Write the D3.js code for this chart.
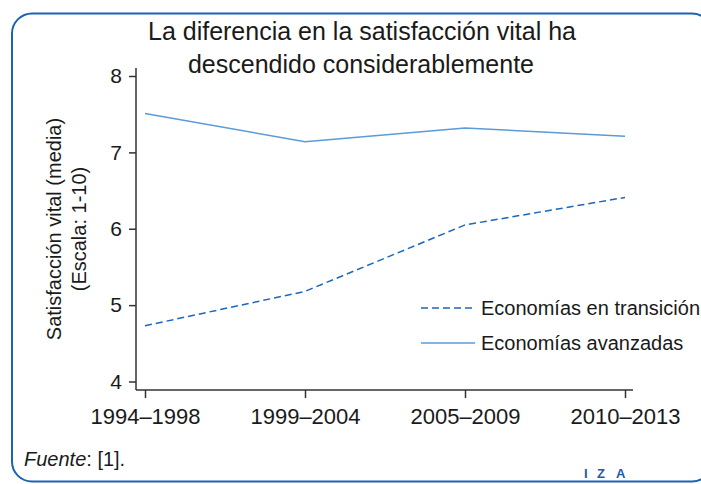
<!DOCTYPE html>
<html>
<head>
<meta charset="utf-8">
<script src="https://cdn.jsdelivr.net/npm/d3@7"></script>
<style>
  body { margin: 0; background: #fff; }
  svg { display: block; font-family: "Liberation Sans", Arial, sans-serif; }
</style>
</head>
<body>
<div id="wrapper"></div>
<script>
const periods = ["1994–1998", "1999–2004", "2005–2009", "2010–2013"];
const transitionValues = [4.73, 5.18, 6.05, 6.41];
const advancedValues = [7.51, 7.14, 7.32, 7.21];
const yTicks = [4, 5, 6, 7, 8];
const seriesNames = ["Economías en transición", "Economías avanzadas"];

const drawChart = () => {
  const dimensions = { width: 701, height: 484 };

  const wrapper = d3
    .select("#wrapper")
    .append("svg")
    .attr("width", dimensions.width)
    .attr("height", dimensions.height);

  // frame
  wrapper
    .append("rect")
    .attr("x", 12)
    .attr("y", 13.5)
    .attr("width", 700)
    .attr("height", 468)
    .attr("rx", 20)
    .attr("fill", "none")
    .attr("stroke", "#1c63b1")
    .attr("stroke-width", 2);

  // title
  const title = wrapper
    .append("text")
    .attr("text-anchor", "middle")
    .attr("fill", "#1a1a1a")
    .style("font-size", "25px");
  title.append("tspan").attr("x", 362).attr("y", 40).text("La diferencia en la satisfacción vital ha");
  title.append("tspan").attr("x", 361).attr("y", 73).text("descendido considerablemente");

  const xScale = d3.scalePoint().domain(periods).range([145, 625]);
  const yScale = d3.scaleLinear().domain([4, 8]).range([381.5, 76]);

  const axisColor = "#333";

  // axis lines
  wrapper
    .append("line")
    .attr("x1", 136).attr("x2", 136)
    .attr("y1", 68).attr("y2", 390)
    .attr("stroke", axisColor)
    .attr("stroke-width", 1.5);
  wrapper
    .append("line")
    .attr("x1", 136).attr("x2", 633)
    .attr("y1", 390).attr("y2", 390)
    .attr("stroke", axisColor)
    .attr("stroke-width", 1.5);

  const yAxis = wrapper
    .append("g")
    .attr("transform", "translate(136,0)")
    .call(d3.axisLeft(yScale).tickValues(yTicks).tickSize(7).tickPadding(7).tickFormat(d3.format("d")));
  yAxis.select(".domain").remove();
  yAxis.selectAll("line").attr("stroke", axisColor).attr("stroke-width", 1.5);
  yAxis.selectAll("text").attr("fill", "#1a1a1a").style("font-size", "21px").style("font-family", "inherit");

  const xAxis = wrapper
    .append("g")
    .attr("transform", "translate(0,390)")
    .call(d3.axisBottom(xScale).tickSize(8).tickPadding(10));
  xAxis.select(".domain").remove();
  xAxis.selectAll("line").attr("stroke", axisColor).attr("stroke-width", 1.5);
  xAxis.selectAll("text").attr("fill", "#1a1a1a").style("font-size", "22px").style("font-family", "inherit");

  // y label
  const yLabel = wrapper
    .append("text")
    .attr("transform", "translate(0,229) rotate(-90)")
    .attr("text-anchor", "middle")
    .attr("fill", "#1a1a1a")
    .style("font-size", "20px");
  yLabel.append("tspan").attr("x", 0).attr("y", 61).text("Satisfacción vital (media)");
  yLabel.append("tspan").attr("x", 0).attr("y", 86).text("(Escala: 1-10)");

  const line = d3
    .line()
    .x((d, i) => xScale(periods[i]))
    .y((d) => yScale(d));

  wrapper
    .append("path")
    .datum(advancedValues)
    .attr("d", line)
    .attr("fill", "none")
    .attr("stroke", "#5a9bd8")
    .attr("stroke-width", 1.5);

  wrapper
    .append("path")
    .datum(transitionValues)
    .attr("d", line)
    .attr("fill", "none")
    .attr("stroke", "#1e66ba")
    .attr("stroke-width", 1.5)
    .attr("stroke-dasharray", "7,4");

  // legend
  const legend = wrapper.append("g");
  const legendItems = [
    { name: seriesNames[0], color: "#1e66ba", dash: "7,4", y: 308 },
    { name: seriesNames[1], color: "#5a9bd8", dash: null, y: 343 },
  ];
  legendItems.forEach((item) => {
    legend
      .append("line")
      .attr("x1", 421).attr("x2", 475)
      .attr("y1", item.y).attr("y2", item.y)
      .attr("stroke", item.color)
      .attr("stroke-width", 1.5)
      .attr("stroke-dasharray", item.dash);
    legend
      .append("text")
      .attr("x", 481)
      .attr("y", item.y + 7)
      .attr("fill", "#1a1a1a")
      .style("font-size", "20px")
      .text(item.name);
  });

  // source
  const source = wrapper
    .append("text")
    .attr("x", 24)
    .attr("y", 466)
    .attr("fill", "#1a1a1a")
    .style("font-size", "20px");
  source.append("tspan").style("font-style", "italic").text("Fuente");
  source.append("tspan").text(": [1].");

  const logo = wrapper
    .append("text")
    .attr("y", 478)
    .attr("fill", "#1f5aa6")
    .style("font-size", "13px")
    .style("font-weight", "bold");
  logo.append("tspan").attr("x", 584).text("I");
  logo.append("tspan").attr("x", 597).text("Z");
  logo.append("tspan").attr("x", 616).text("A");
};

drawChart();
</script>
</body>
</html>
